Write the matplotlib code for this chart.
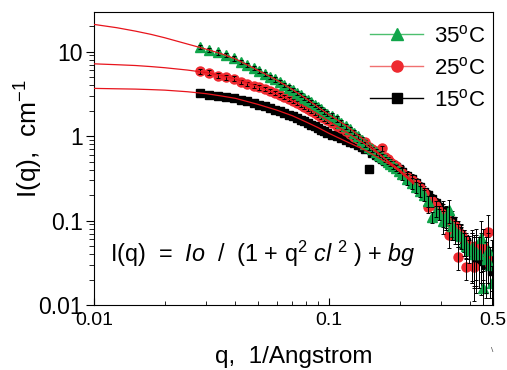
import matplotlib
matplotlib.use('Agg')
import matplotlib.pyplot as plt
from matplotlib.lines import Line2D
from matplotlib.ticker import LogLocator, NullFormatter

plt.rcParams['font.family'] = ['Liberation Sans', 'DejaVu Sans']
plt.rcParams['mathtext.fontset'] = 'custom'
plt.rcParams['mathtext.rm'] = 'Liberation Sans'
plt.rcParams['mathtext.it'] = 'Liberation Sans:italic'

# q grid, 1/Angstrom
q = [0.0282, 0.0310, 0.0338, 0.0366, 0.0394, 0.0422, 0.0450, 0.0478, 0.0506, 0.0534,
     0.0562, 0.0590, 0.0618, 0.0646, 0.0674, 0.0702, 0.0730, 0.0758, 0.0786, 0.0814,
     0.0842, 0.0870, 0.0898, 0.0926, 0.0954, 0.0982,
     0.103, 0.108, 0.113, 0.118, 0.123, 0.128, 0.133, 0.138, 0.143, 0.148,
     0.153, 0.158, 0.163, 0.168, 0.173, 0.178, 0.183, 0.188, 0.193, 0.198,
     0.205, 0.215, 0.225, 0.235, 0.245, 0.255, 0.265, 0.275, 0.285, 0.295,
     0.305, 0.315, 0.325, 0.335, 0.345, 0.355, 0.365, 0.375, 0.385, 0.395,
     0.405, 0.415, 0.425, 0.435, 0.445, 0.455, 0.465, 0.475, 0.485, 0.495]

I_35 = [11.4, 10.5, 9.8, 9.1, 8.3, 7.6, 7.0, 6.4, 5.9, 5.45,
        5.05, 4.7, 4.35, 4.05, 3.75, 3.5, 3.25, 3.05, 2.85, 2.68,
        2.5, 2.35, 2.2, 2.08, 1.95, 1.85,
        1.74, 1.60, 1.43, 1.30, 1.20, 1.10, 0.99, 0.90, 0.80, 0.74,
        0.70, 0.65, 0.60, 0.57, 0.53, 0.50, 0.47, 0.44, 0.42, 0.39,
        0.36, 0.31, 0.28, 0.25, 0.225, 0.20, 0.17, 0.11, 0.13, 0.12,
        0.10, 0.11, 0.135, 0.085, 0.075, 0.07, 0.065, 0.055, 0.05, 0.045,
        0.048, 0.04, 0.042, 0.04, 0.062, 0.016, 0.035, 0.045, 0.03, 0.018]

I_25 = [5.85, 5.65, 5.2, 4.95, 4.8, 4.4, 4.15, 3.95, 3.78, 3.6,
        3.4, 3.22, 3.05, 2.9, 2.75, 2.6, 2.47, 2.35, 2.22, 2.1,
        2.0, 1.9, 1.8, 1.7, 1.62, 1.54,
        1.44, 1.33, 1.23, 1.14, 1.06, 0.98, 0.92, 0.86, 0.85, 0.74,
        0.70, 0.66, 0.62, 0.72, 0.56, 0.53, 0.50, 0.47, 0.44, 0.40,
        0.37, 0.33, 0.30, 0.27, 0.24, 0.21, 0.145, 0.17, 0.15, 0.13,
        0.12, 0.11, 0.068, 0.09, 0.085, 0.037, 0.07, 0.06, 0.028, 0.05,
        0.045, 0.028, 0.05, 0.04, 0.045, 0.05, 0.04, 0.073, 0.03, 0.037]

I_15 = [3.25, 3.08, 2.98, 2.92, 2.8, 2.68, 2.58, 2.45, 2.35, 2.25,
        2.15, 2.06, 1.97, 1.88, 1.8, 1.72, 1.64, 1.57, 1.5, 1.43,
        1.37, 1.31, 1.25, 1.19, 1.14, 1.09,
        1.04, 0.99, 0.94, 0.90, 0.86, 0.82, 0.78, 0.74, 0.70, 0.41,
        0.63, 0.60, 0.57, 0.54, 0.51, 0.49, 0.47, 0.45, 0.43, 0.41,
        0.38, 0.34, 0.31, 0.28, 0.25, 0.22, 0.20, 0.18, 0.16, 0.145,
        0.13, 0.115, 0.105, 0.10, 0.085, 0.075, 0.068, 0.06, 0.055, 0.05,
        0.045, 0.042, 0.035, 0.04, 0.033, 0.045, 0.03, 0.04, 0.03, 0.025]

# relative error bars
rel_err = [0.06] * 26 + [0.07] * 20 + [0.15] * 10 + [0.3] * 10 + [0.6] * 10

# fitted curves
fit_q = [0.01, 0.0125, 0.015, 0.0175, 0.02, 0.025, 0.03, 0.035, 0.04, 0.05, 0.06,
         0.07, 0.08, 0.09, 0.1, 0.12, 0.14, 0.16, 0.18, 0.2, 0.23]
fit_35 = [21.0, 19.2, 17.5, 16.0, 14.6, 12.3, 10.7, 9.4, 8.2, 6.0, 4.6,
          3.55, 2.78, 2.2, 1.8, 1.3, 0.92, 0.66, 0.49, 0.38, 0.27]
fit_25 = [7.17, 7.0, 6.85, 6.65, 6.45, 6.05, 5.65, 5.2, 4.75, 3.85, 3.15,
          2.62, 2.2, 1.82, 1.5, 1.1, 0.83, 0.64, 0.5, 0.4, 0.28]
fit_15 = [3.67, 3.63, 3.6, 3.55, 3.5, 3.35, 3.18, 2.98, 2.8, 2.37, 2.03,
          1.74, 1.47, 1.26, 1.08, 0.85, 0.7, 0.57, 0.47, 0.39, 0.29]

green = '#10a54a'
red = '#ee2a30'

fig = plt.figure(figsize=(5.07, 3.70), dpi=100)
ax = fig.add_axes([0.1854, 0.1757, 0.787, 0.792])

series = [(I_15, 's', 'black', 5.5), (I_25, 'o', red, 6.5), (I_35, '^', green, 6.5)]
for k, (vals, mk, col, size) in enumerate(series):
    err = [v * e for v, e in zip(vals, rel_err)]
    ax.plot(q, vals, mk, color=col, ms=size, mec=col, zorder=2 + k * 0.1)
    ax.errorbar(q, vals, yerr=err, fmt='none', ecolor='black', elinewidth=0.7,
                capsize=1.2, capthick=0.7, zorder=2.05 + k * 0.1)

for fv in (fit_35, fit_25, fit_15):
    ax.plot(fit_q, fv, color='#e8141c', lw=0.9, zorder=3)

ax.set_xscale('log')
ax.set_yscale('log')
ax.set_xlim(0.01, 0.5)
ax.set_ylim(0.01, 29.5)

ax.set_xticks([0.01, 0.1, 0.5])
ax.set_xticklabels(['0.01', '0.1', '0.5'])
ax.xaxis.set_minor_locator(LogLocator(base=10, subs=range(2, 10)))
ax.xaxis.set_minor_formatter(NullFormatter())
ax.set_yticks([0.01, 0.1, 1, 10])
ax.set_yticklabels(['0.01', '0.1', '1', '10'])
ax.yaxis.set_minor_locator(LogLocator(base=10, subs=range(2, 10)))
ax.yaxis.set_minor_formatter(NullFormatter())

ax.tick_params(axis='x', which='both', direction='in', labelsize=14, pad=5)
ax.tick_params(axis='x', which='major', length=5)
ax.tick_params(axis='x', which='minor', length=3)
ax.tick_params(axis='y', which='both', direction='out', labelsize=16.5, pad=2)
ax.tick_params(axis='y', which='major', length=6)
ax.tick_params(axis='y', which='minor', length=3.5)

ax.set_xlabel('q,  1/Angstrom', fontsize=17.5, labelpad=12)
ax.set_ylabel('I(q),  cm$^{-1}$', fontsize=19)
ax.yaxis.set_label_coords(-0.123, 0.568)

ax.text(0.04, 0.147,
        r'I(q)  =  $\mathit{Io}$  /  (1 + q$^2$ $\mathit{cl}$ $^2$ ) + $\mathit{bg}$',
        transform=ax.transAxes, fontsize=16.8, va='baseline')

handles = [Line2D([], [], color='#4cbf6e', marker='^', mfc=green, mec=green, ms=9, lw=1),
           Line2D([], [], color='#f07070', marker='o', mfc=red, mec=red, ms=8, lw=1),
           Line2D([], [], color='black', marker='s', mfc='black', ms=7, lw=1)]
labels = ['35$^{\\rm o}$C', '25$^{\\rm o}$C', '15$^{\\rm o}$C']
ax.legend(handles, labels, loc='upper right', frameon=False, fontsize=16,
          handlelength=2.4, handletextpad=0.5, labelspacing=0.45,
          borderaxespad=0.0, bbox_to_anchor=(1.004, 0.985))

fig.text(0.968, 0.05, '\\', fontsize=6, color='#444444')

fig.savefig('out.png', dpi=100)
